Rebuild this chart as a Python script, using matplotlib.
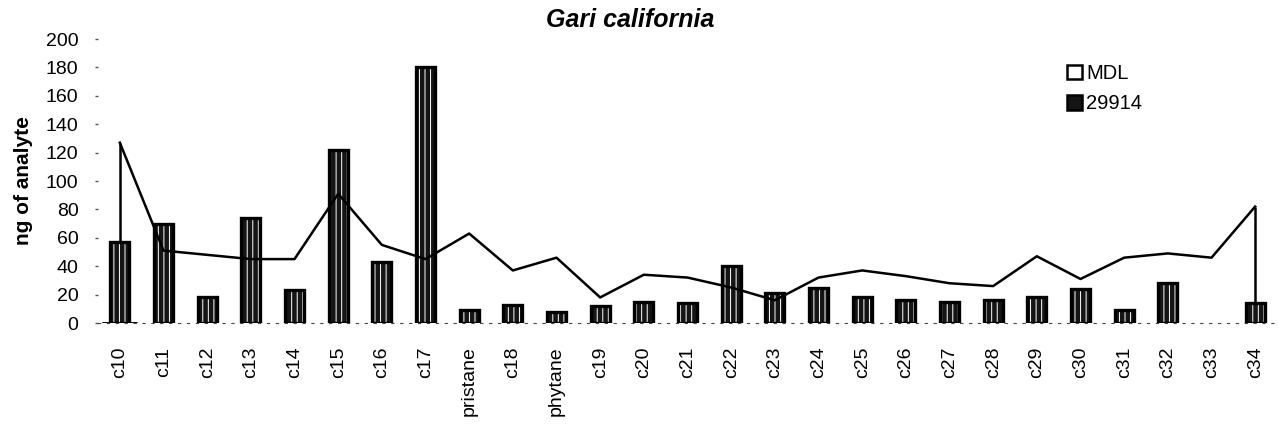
import numpy as np
import matplotlib.pyplot as plt

plt.rcParams['font.family'] = ['Liberation Sans', 'DejaVu Sans']
plt.rcParams['hatch.linewidth'] = 0.7

analytes = ['c10', 'c11', 'c12', 'c13', 'c14', 'c15', 'c16', 'c17', 'pristane',
            'c18', 'phytane', 'c19', 'c20', 'c21', 'c22', 'c23', 'c24', 'c25',
            'c26', 'c27', 'c28', 'c29', 'c30', 'c31', 'c32', 'c33', 'c34']
sample_29914 = [57, 70, 18, 74, 23, 122, 43, 180, 9, 13, 8, 12, 15, 14, 40, 21,
                25, 18, 16, 15, 16, 18, 24, 9, 28, 0, 14]
mdl = [127, 51, 48, 45, 45, 91, 55, 45, 63, 37, 46, 18, 34, 32, 25, 16, 32, 37,
       33, 28, 26, 47, 31, 46, 49, 46, 82]
yticks = list(range(0, 201, 20))

x = np.arange(len(analytes))
vals = np.array(sample_29914, dtype=float)
has_bar = vals > 0

fig = plt.figure(figsize=(12.79, 4.30), dpi=100)
ax = fig.add_axes([98 / 1279, 1 - 323 / 430, 1179 / 1279, 284 / 430])

# hatched bars: dark fill with white stripes, then black outline on top
ax.bar(x[has_bar], vals[has_bar], width=0.44, color='#151515', edgecolor='white',
       hatch='|||', linewidth=0, zorder=2)
ax.bar(x[has_bar], vals[has_bar], width=0.44, fill=False, edgecolor='black',
       linewidth=2.4, zorder=3)

ax.plot(x, mdl, color='black', lw=1.8, zorder=4)
# the line joins down to the bars at both ends
ax.vlines([x[0], x[-1]], [sample_29914[0], sample_29914[-1]], [mdl[0], mdl[-1]],
          color='black', lw=1.8, zorder=4)

# legend proxies
ax.bar([0], [0], color='white', edgecolor='black', linewidth=1.8, label='MDL')
ax.bar([0], [0], color='#151515', edgecolor='black', linewidth=1.8, label='29914')
leg = ax.legend(loc='upper left', bbox_to_anchor=(0.815, 0.94), frameon=False,
                fontsize=14.5, handlelength=0.75, handleheight=0.75,
                handletextpad=0.2, labelspacing=0.55, borderaxespad=0)

ax.set_xlim(-0.5, len(analytes) - 0.5)
ax.set_ylim(0, 200)
ax.set_yticks(yticks)
ax.set_xticks(x)
ax.set_xticklabels(analytes, rotation=90, fontsize=14)
ax.tick_params(axis='y', labelsize=14, length=2, width=1, color='#555555', pad=12)
ax.tick_params(axis='x', length=0, pad=17)

for side in ['top', 'right', 'left']:
    ax.spines[side].set_visible(False)
ax.spines['bottom'].set_linestyle((0, (2, 6)))
ax.spines['bottom'].set_color('#444444')

ax.set_ylabel('ng of analyte', fontsize=15, fontweight='bold', labelpad=9)
fig.text(630 / 1279, 1 - 20 / 430, 'Gari california', fontsize=18,
         fontweight='bold', style='italic', ha='center', va='center')

fig.savefig('out.png', dpi=100)
